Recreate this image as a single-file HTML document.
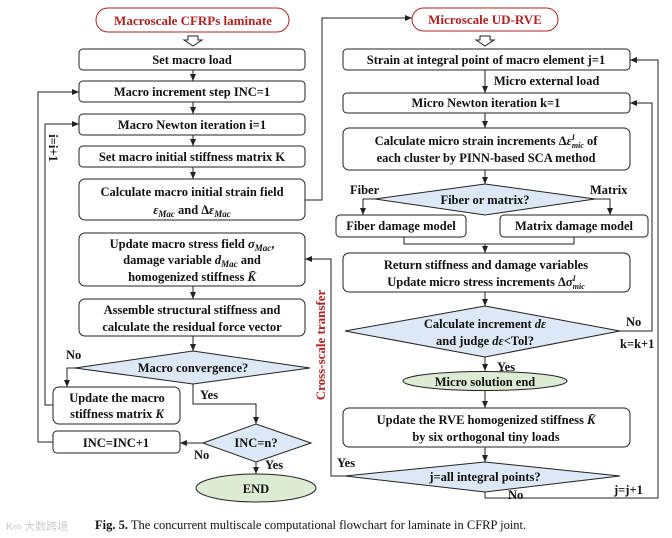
<!DOCTYPE html>
<html><head><meta charset="utf-8"><style>
body{margin:0;background:#fff}
svg{display:block}
text{font-family:"Liberation Serif",serif;font-weight:bold;font-size:12.5px;fill:#111}
.t{fill:#b22222;font-size:13px}
.i{font-style:italic}
</style></head><body>
<svg width="672" height="538" viewBox="0 0 672 538" xmlns="http://www.w3.org/2000/svg">
<defs><marker id="a" markerWidth="8" markerHeight="8" refX="7" refY="4" orient="auto" markerUnits="userSpaceOnUse"><path d="M0,1 L7,4 L0,7 Z" fill="#222"/></marker></defs>
<g fill="none" stroke="#222" stroke-width="1">
<rect x="96" y="8" width="193" height="24" rx="12" stroke="#b22222"/>
<rect x="412" y="8" width="146" height="23" rx="11.5" stroke="#b22222"/>
<path d="M188,36 h10 v4 h4 l-9,6 l-9,-6 h4 z"/>
<path d="M480,36 h10 v4 h4 l-9,6 l-9,-6 h4 z"/>
<rect x="79" y="49" width="226" height="21" rx="4"/>
<rect x="79" y="81" width="226" height="21" rx="4"/>
<rect x="79" y="114" width="226" height="21" rx="4"/>
<rect x="79" y="146" width="226" height="21" rx="4"/>
<rect x="79" y="179" width="226" height="41" rx="6"/>
<rect x="79" y="233" width="226" height="53" rx="6"/>
<rect x="79" y="299" width="226" height="37" rx="6"/>
<path d="M75,368 L193,351 L310,368 L193,384 Z" fill="#dce8f5"/>
<rect x="53" y="387" width="127" height="37" rx="6"/>
<rect x="53" y="431" width="127" height="22" rx="4"/>
<path d="M203,443 L256,424 L311,443 L256,462 Z" fill="#dce8f5"/>
<ellipse cx="256" cy="488" rx="60" ry="14" fill="#dcebd3"/>
<path d="M193,70 V81" marker-end="url(#a)"/>
<path d="M193,102 V114" marker-end="url(#a)"/>
<path d="M193,135 V146" marker-end="url(#a)"/>
<path d="M193,167 V179" marker-end="url(#a)"/>
<path d="M193,286 V299" marker-end="url(#a)"/>
<path d="M193,336 V351" marker-end="url(#a)"/>
<path d="M75,368 H67 V387" marker-end="url(#a)"/>
<path d="M193,384 V404 H256 V424" marker-end="url(#a)"/>
<path d="M203,443 H180" marker-end="url(#a)"/>
<path d="M256,462 V474" marker-end="url(#a)"/>
<path d="M53,405 H45 V124 H79" marker-end="url(#a)"/>
<path d="M53,442 H38 V92 H79" marker-end="url(#a)"/>
<path d="M305,200 H322 V18 H412" marker-end="url(#a)"/>
<path d="M345,476 H331 V259 H305" marker-end="url(#a)"/>
<rect x="343" y="49" width="287" height="21" rx="4"/>
<rect x="343" y="93" width="287" height="20" rx="4"/>
<rect x="343" y="128" width="287" height="42" rx="6"/>
<path d="M375,199 L485,184 L595,199 L485,215 Z" fill="#dce8f5"/>
<rect x="336" y="215" width="130" height="22" rx="4"/>
<rect x="500" y="215" width="148" height="22" rx="4"/>
<rect x="343" y="253" width="287" height="39" rx="6"/>
<path d="M345,331 L485,306 L620,331 L485,357 Z" fill="#dce8f5"/>
<ellipse cx="485" cy="381" rx="82" ry="9.5" fill="#dcebd3"/>
<rect x="343" y="408" width="287" height="39" rx="6"/>
<path d="M345,476 L485,462 L620,476 L485,492 Z" fill="#dce8f5"/>
<path d="M485,70 V93" marker-end="url(#a)"/>
<path d="M485,113 V128" marker-end="url(#a)"/>
<path d="M485,170 V184" marker-end="url(#a)"/>
<path d="M375,199 H363 V215" marker-end="url(#a)"/>
<path d="M595,199 H610 V215" marker-end="url(#a)"/>
<path d="M404,237 V244 H574 V237 M485,244 V253" marker-end="url(#a)"/>
<path d="M485,292 V306" marker-end="url(#a)"/>
<path d="M620,331 H652 V103 H630" marker-end="url(#a)"/>
<path d="M485,357 V371" marker-end="url(#a)"/>
<path d="M485,390 V408" marker-end="url(#a)"/>
<path d="M485,447 V462" marker-end="url(#a)"/>
<path d="M485,492 V498 H658 V60 H630" marker-end="url(#a)"/>
</g>
<g text-anchor="middle">
<text class="t" x="193" y="25">Macroscale CFRPs laminate</text>
<text class="t" x="485" y="24">Microscale UD-RVE</text>
<text x="192" y="64">Set macro load</text>
<text x="192" y="96">Macro increment step INC=1</text>
<text x="192" y="129">Macro Newton iteration i=1</text>
<text x="192" y="161">Set macro initial stiffness matrix K</text>
<text x="192" y="196">Calculate macro initial strain field</text>
<text x="192" y="214"><tspan class="i">ε<tspan font-size="9" dy="3">Mac</tspan></tspan><tspan dy="-3"> and Δ</tspan><tspan class="i">ε<tspan font-size="9" dy="3">Mac</tspan></tspan></text>
<text x="192" y="248">Update macro stress field <tspan class="i">σ<tspan font-size="9" dy="3">Mac</tspan></tspan><tspan dy="-3">,</tspan></text>
<text x="192" y="264">damage variable <tspan class="i">d<tspan font-size="9" dy="3">Mac</tspan></tspan><tspan dy="-3"> and</tspan></text>
<text x="192" y="281">homogenized stiffness <tspan class="i">K̄</tspan></text>
<text x="192" y="314">Assemble structural stiffness and</text>
<text x="192" y="331">calculate the residual force vector</text>
<text x="193" y="372">Macro convergence?</text>
<text x="117" y="402">Update the macro</text>
<text x="117" y="418">stiffness matrix <tspan class="i">K</tspan></text>
<text x="116" y="447">INC=INC+1</text>
<text x="256" y="447">INC=n?</text>
<text x="256" y="493" font-size="13">END</text>
<text x="486" y="64">Strain at integral point of macro element j=1</text>
<text x="486" y="107">Micro Newton iteration k=1</text>
<text x="486" y="145">Calculate micro strain increments Δ<tspan class="i">ε<tspan font-size="8" dy="-5">I</tspan><tspan font-size="8" dy="8" dx="-3">mic</tspan></tspan><tspan dy="-3"> of</tspan></text>
<text x="486" y="162">each cluster by PINN-based SCA method</text>
<text x="485" y="204">Fiber or matrix?</text>
<text x="401" y="230">Fiber damage model</text>
<text x="574" y="230">Matrix damage model</text>
<text x="486" y="269">Return stiffness and damage variables</text>
<text x="486" y="286">Update micro stress increments Δ<tspan class="i">σ<tspan font-size="8" dy="-5">I</tspan><tspan font-size="8" dy="8" dx="-3">mic</tspan></tspan></text>
<text x="485" y="328">Calculate increment <tspan class="i">dε</tspan></text>
<text x="485" y="345">and judge <tspan class="i">dε</tspan>&lt;Tol?</text>
<text x="485" y="386">Micro solution end</text>
<text x="486" y="424">Update the RVE homogenized stiffness <tspan class="i">K̄</tspan></text>
<text x="486" y="441">by six orthogonal tiny loads</text>
<text x="485" y="481">j=all integral points?</text>
</g>
<text x="494" y="85">Micro external load</text>
<text x="350" y="194">Fiber</text>
<text x="590" y="194">Matrix</text>
<text x="626" y="326">No</text>
<text x="620" y="348">k=k+1</text>
<text x="497" y="371">Yes</text>
<text x="337" y="467">Yes</text>
<text x="508" y="499">No</text>
<text x="614" y="494">j=j+1</text>
<text x="66" y="359">No</text>
<text x="200" y="399">Yes</text>
<text x="194" y="459">No</text>
<text x="265" y="469">Yes</text>
<text transform="translate(49,148) rotate(90)" text-anchor="middle">i=i+1</text>
<text class="t" transform="translate(325,345) rotate(-90)" text-anchor="middle">Cross-scale transfer</text>
<text x="6" y="530" style="font-family:'Liberation Sans',sans-serif;font-weight:normal;fill:#ccc;font-size:11px">K∞ 大数跨境</text>
<text x="95" y="529" style="font-weight:normal;font-size:12.5px"><tspan font-weight="bold">Fig. 5.</tspan> The concurrent multiscale computational flowchart for laminate in CFRP joint.</text>
</svg>
</body></html>
